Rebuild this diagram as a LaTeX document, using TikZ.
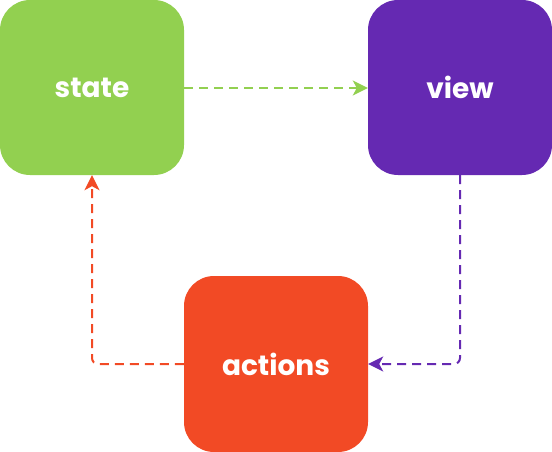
\documentclass[tikz,border=0pt]{standalone}
\usepackage{fontspec}
\setmainfont{Poppins}[BoldFont={* Bold}]
\usetikzlibrary{arrows.meta}
\definecolor{cgreen}{HTML}{92D050}
\definecolor{cpurple}{HTML}{6529B2}
\definecolor{cred}{HTML}{F24A25}
\begin{document}
\begin{tikzpicture}[x=1pt,y=-1pt,
  box/.style={draw=none,rounded corners=30pt,minimum width=184pt,minimum height=175pt,inner sep=0pt,
    text=white,font=\fontsize{28}{32}\selectfont\bfseries},
  flow/.style={line width=2pt,dash pattern=on 9pt off 6pt,rounded corners=6pt,
    -{Stealth[length=15pt,width=15pt,inset=4pt]}}]
\useasboundingbox (0,0) rectangle (552,452);
\node[box,fill=cgreen] (state) at (92,87.5) {state};
\node[box,fill=cpurple] (view) at (460,87.5) {view};
\node[box,fill=cred,minimum height=176pt] (actions) at (276,364) {actions};
\draw[flow,cgreen] ([yshift=-0.5pt]state.east) -- ([yshift=-0.5pt]view.west);
\draw[flow,cpurple] (view.south) -- (view.south |- actions.east) -- (actions.east);
\draw[flow,cred] (actions.west) -- (actions.west -| state.south) -- (state.south);
\end{tikzpicture}
\end{document}
